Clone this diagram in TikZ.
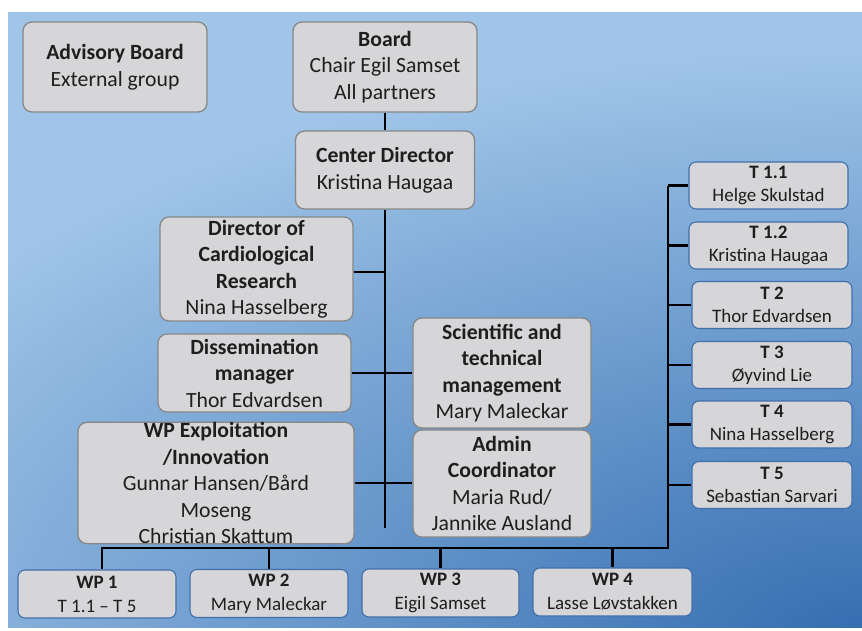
\documentclass[tikz,border=0pt]{standalone}
\usepackage{fontspec}
\setmainfont{Carlito}
\definecolor{bgdark}{RGB}{50,108,176}
\definecolor{bglight}{RGB}{160,197,232}
\definecolor{boxfill}{RGB}{214,214,216}
\definecolor{boxgray}{RGB}{135,135,135}
\definecolor{boxblue}{RGB}{66,110,170}
\definecolor{nametext}{RGB}{30,30,30}
\tikzset{
  mainbox/.style={draw=boxgray, line width=1.3pt, fill=boxfill, rounded corners=9pt,
    align=center, inner sep=0pt, text=nametext, font=\fontsize{21.7}{26.5}\selectfont},
  smallbox/.style={draw=boxblue, line width=1.1pt, fill=boxfill, rounded corners=7pt,
    align=center, inner sep=0pt, text=nametext, font=\fontsize{19}{23}\selectfont,
    minimum width=159pt, minimum height=47pt},
  wpbox/.style={smallbox, font=\fontsize{19}{24}\selectfont, minimum width=158pt, minimum height=48pt},
  link/.style={line width=2.2pt, draw=black},
}
\begin{document}
\begin{tikzpicture}[x=1pt,y=-1pt]
\useasboundingbox (0,0) rectangle (862,630);
\begin{scope}
  \clip (8,12) rectangle (862,627);
  \fill[bglight] (8,12) rectangle (862,627);
  \shade[inner color=bgdark, outer color=bglight] (875,645) ellipse [x radius=1150pt, y radius=600pt];
\end{scope}

% main boxes
\node[mainbox, minimum width=184pt, minimum height=90pt] (adv) at (115,67)
  {\textbf{Advisory Board}\\External group};
\node[mainbox, minimum width=184pt, minimum height=90pt] (board) at (385,67)
  {\textbf{Board}\\Chair Egil Samset\\All partners};
\node[mainbox, minimum width=179pt, minimum height=78pt] (cd) at (385,170)
  {\textbf{Center Director}\\Kristina Haugaa};
\node[mainbox, minimum width=193pt, minimum height=104pt] (dcr) at (256.5,269)
  {\textbf{Director of}\\\textbf{Cardiological}\\\textbf{Research}\\Nina Hasselberg};
\node[mainbox, minimum width=193pt, minimum height=78pt] (dis) at (254.5,373)
  {\textbf{Dissemination}\\\textbf{manager}\\Thor Edvardsen};
\node[mainbox, minimum width=276pt, minimum height=121pt] (exp) at (216,483)
  {\textbf{WP Exploitation}\\\textbf{/Innovation}\\Gunnar Hansen/Bård\\Moseng\\Christian Skattum};
\node[mainbox, minimum width=178pt, minimum height=110pt] (sci) at (502,373)
  {\textbf{Scientific and}\\\textbf{technical}\\\textbf{management}\\Mary Maleckar};
\node[mainbox, minimum width=178pt, minimum height=107pt] (adm) at (502,483.5)
  {\textbf{Admin}\\\textbf{Coordinator}\\Maria Rud/\\Jannike Ausland};

% task boxes
\node[smallbox] (t11) at (768.5,185.5) {\textbf{T 1.1}\\Helge Skulstad};
\node[smallbox] (t12) at (768.5,245.5) {\textbf{T 1.2}\\Kristina Haugaa};
\node[smallbox, minimum width=160pt] (t2) at (772,305) {\textbf{T 2}\\Thor Edvardsen};
\node[smallbox, minimum width=160pt] (t3) at (772,365) {\textbf{T 3}\\Øyvind Lie};
\node[smallbox, minimum width=160pt] (t4) at (772,424.5) {\textbf{T 4}\\Nina Hasselberg};
\node[smallbox, minimum width=160pt] (t5) at (772,485) {\textbf{T 5}\\Sebastian Sarvari};

% work packages
\node[wpbox] (wp1) at (97,594) {\textbf{WP 1}\\T 1.1 – T 5};
\node[wpbox] (wp2) at (269,593.5) {\textbf{WP 2}\\Mary Maleckar};
\node[wpbox, minimum width=157pt] (wp3) at (440.5,593) {\textbf{WP 3}\\Eigil Samset};
\node[wpbox, minimum width=159pt] (wp4) at (612.5,592) {\textbf{WP 4}\\Lasse Løvstakken};

% connectors
\coordinate (trunkend) at (385,528);
\coordinate (j1) at (385,272);
\coordinate (busL) at (102,548);
\coordinate (busR) at (668,548);
\draw[link] (board.south) -- (board.south |- cd.north);
\draw[link] (cd.south -| trunkend) -- (trunkend);
\draw[link] (dcr.east |- j1) -- (j1);
\draw[link] (dis.east) -- (dis.east -| sci.west);
\draw[link] (exp.east) -- (exp.east -| adm.west);
\draw[link] (busL |- wp1.north) -- (busL) -- (busR) -- (busR |- t11.west);
\draw[link] (wp2.north |- busL) -- (wp2.north);
\draw[link] (wp3.north |- busL) -- (wp3.north);
\draw[link] (wp4.north |- busL) -- (wp4.north);
\foreach \t in {t11,t12,t2,t3,t4,t5}
  \draw[link] (busR |- \t.west) -- (\t.west);
\end{tikzpicture}
\end{document}
